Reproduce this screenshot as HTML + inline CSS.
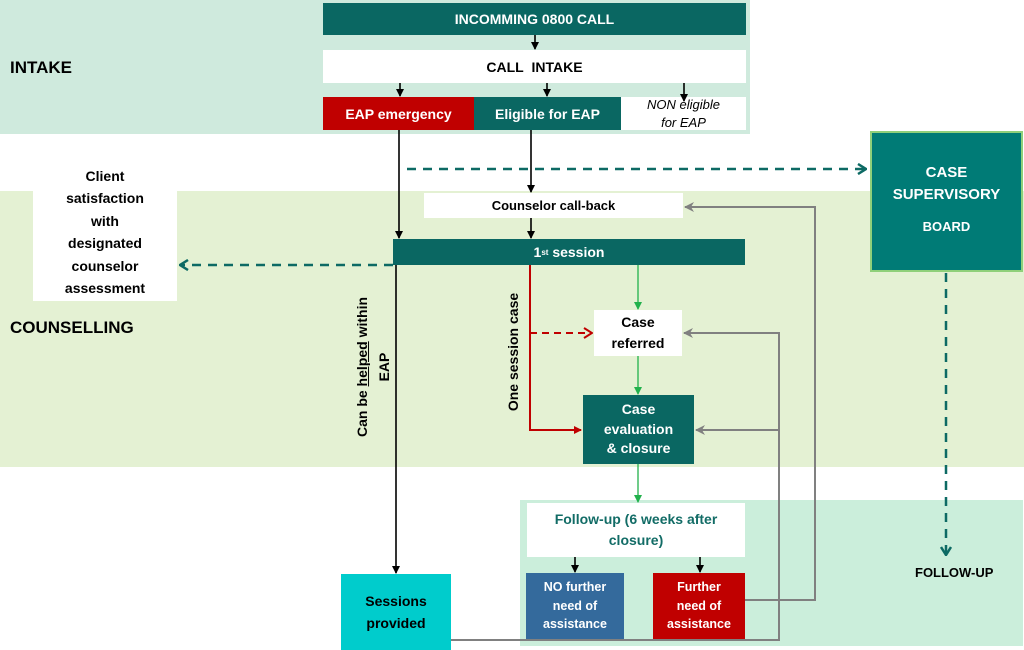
<!DOCTYPE html>
<html><head><meta charset="utf-8"><style>
body{margin:0;width:1024px;height:650px;position:relative;overflow:hidden;background:#fff;font-family:"Liberation Sans",Arial,sans-serif;font-weight:bold}
.a{position:absolute;box-sizing:border-box;display:flex;align-items:center;justify-content:center;text-align:center}
.t{color:#fff}
svg{position:absolute;left:0;top:0}
</style></head><body>
<div class="a" style="left:0;top:0;width:750px;height:134px;background:#cfeadd"></div>
<div class="a" style="left:0;top:191px;width:1024px;height:276px;background:#e4f1d3"></div>
<div class="a" style="left:520px;top:500px;width:503px;height:146px;background:#cbeedb"></div>

<div class="a" style="left:10px;top:58px;font-size:17px;color:#000;justify-content:flex-start">INTAKE</div>
<div class="a" style="left:10px;top:318px;font-size:17px;color:#000;justify-content:flex-start">COUNSELLING</div>
<div class="a" style="left:915px;top:565px;font-size:13px;color:#000;justify-content:flex-start">FOLLOW-UP</div>

<div class="a t" style="left:323px;top:3px;width:423px;height:32px;background:#0a6762;font-size:14px">INCOMMING 0800 CALL</div>
<div class="a" style="left:323px;top:50px;width:423px;height:33px;background:#fff;font-size:14px">CALL&nbsp; INTAKE</div>
<div class="a t" style="left:323px;top:97px;width:151px;height:33px;background:#c00000;font-size:14px">EAP emergency</div>
<div class="a t" style="left:474px;top:97px;width:147px;height:33px;background:#0a6762;font-size:14px">Eligible for EAP</div>
<div class="a" style="left:621px;top:97px;width:125px;height:33px;background:#fff;font-size:13px;font-style:italic;font-weight:normal;line-height:18px">NON eligible<br>for EAP</div>

<div class="a" style="left:33px;top:163px;width:144px;height:138px;background:#fff;font-size:14px;line-height:22.5px">Client<br>satisfaction<br>with<br>designated<br>counselor<br>assessment</div>
<div class="a t" style="left:870px;top:131px;width:153px;height:141px;background:#007b76;border:2px solid #8fd07a;font-size:15px;flex-direction:column;line-height:22px;padding-bottom:8px">CASE<br>SUPERVISORY<div style="font-size:13px;margin-top:14px;line-height:14px">BOARD</div></div>

<div class="a" style="left:424px;top:193px;width:259px;height:25px;background:#fff;font-size:13px">Counselor call-back</div>
<div class="a t" style="left:393px;top:239px;width:352px;height:26px;background:#0a6762;font-size:14px">1<sup style="font-size:8px">st</sup>&nbsp;session</div>
<div class="a" style="left:594px;top:310px;width:88px;height:46px;background:#fff;font-size:14px;line-height:21px">Case<br>referred</div>
<div class="a t" style="left:583px;top:395px;width:111px;height:69px;background:#0a6762;font-size:14px;line-height:19.5px">Case<br>evaluation<br>&amp; closure</div>
<div class="a" style="left:527px;top:503px;width:218px;height:54px;background:#fff;font-size:14px;color:#126c66;line-height:21px">Follow-up (6 weeks after<br>closure)</div>
<div class="a t" style="left:526px;top:573px;width:98px;height:66px;background:#346a9c;font-size:12.5px;line-height:18.5px">NO further<br>need of<br>assistance</div>
<div class="a t" style="left:653px;top:573px;width:92px;height:66px;background:#c00000;font-size:12.5px;line-height:18.5px">Further<br>need of<br>assistance</div>
<div class="a" style="left:341px;top:574px;width:110px;height:76px;background:#00cccc;font-size:14px;line-height:22px">Sessions<br>provided</div>

<div class="a" style="left:373px;top:367px;width:0;height:0"><div style="transform:rotate(-90deg);white-space:nowrap;font-size:14px;line-height:22px;text-align:center">Can be <u>helped</u> within<br>EAP</div></div>
<div class="a" style="left:513px;top:352px;width:0;height:0"><div style="transform:rotate(-90deg);white-space:nowrap;font-size:14px">One session case</div></div>

<svg width="1024" height="650" viewBox="0 0 1024 650">
<defs>
<marker id="bk" markerWidth="8" markerHeight="8" refX="7" refY="4" orient="auto" markerUnits="userSpaceOnUse"><path d="M0,0 L8,4 L0,8z" fill="#000"/></marker>
<marker id="gr" markerWidth="8" markerHeight="8" refX="7" refY="4" orient="auto" markerUnits="userSpaceOnUse"><path d="M0,0 L8,4 L0,8z" fill="#22b14c"/></marker>
<marker id="rd" markerWidth="8" markerHeight="8" refX="7" refY="4" orient="auto" markerUnits="userSpaceOnUse"><path d="M0,0 L8,4 L0,8z" fill="#c00000"/></marker>
<marker id="rdo" markerWidth="10" markerHeight="12" refX="9" refY="6" orient="auto" markerUnits="userSpaceOnUse"><path d="M1,1 L9,6 L1,11" fill="none" stroke="#c00000" stroke-width="2"/></marker>
<marker id="gy" markerWidth="10" markerHeight="10" refX="9" refY="5" orient="auto" markerUnits="userSpaceOnUse"><path d="M0,0 L10,5 L0,10 L3,5z" fill="#808080"/></marker>
<marker id="tl" markerWidth="10" markerHeight="12" refX="9" refY="6" orient="auto" markerUnits="userSpaceOnUse"><path d="M1,1 L9,6 L1,11" fill="none" stroke="#0d6a64" stroke-width="2.5"/></marker>
</defs>
<g stroke="#000" stroke-width="1.6" fill="none">
<line x1="535" y1="35" x2="535" y2="49" marker-end="url(#bk)"/>
<line x1="400" y1="83" x2="400" y2="96" marker-end="url(#bk)"/>
<line x1="547" y1="83" x2="547" y2="96" marker-end="url(#bk)"/>
<line x1="684" y1="83" x2="684" y2="101" marker-end="url(#bk)"/>
<line x1="399" y1="130" x2="399" y2="238" marker-end="url(#bk)"/>
<line x1="531" y1="130" x2="531" y2="192" marker-end="url(#bk)"/>
<line x1="531" y1="218" x2="531" y2="238" marker-end="url(#bk)"/>
<line x1="396" y1="265" x2="396" y2="573" marker-end="url(#bk)"/>
<line x1="575" y1="557" x2="575" y2="572" marker-end="url(#bk)"/>
<line x1="700" y1="557" x2="700" y2="572" marker-end="url(#bk)"/>
</g>
<g stroke="#0d6a64" stroke-width="2.5" fill="none" stroke-dasharray="9,7">
<line x1="407" y1="169" x2="866" y2="169" marker-end="url(#tl)"/>
<line x1="393" y1="265" x2="180" y2="265" marker-end="url(#tl)"/>
<line x1="946" y1="273" x2="946" y2="555" marker-end="url(#tl)"/>
</g>
<g stroke="#c00000" stroke-width="2" fill="none">
<polyline points="530,265 530,430 581,430" marker-end="url(#rd)"/>
<line x1="530" y1="333" x2="592" y2="333" stroke-dasharray="7,5" marker-end="url(#rdo)"/>
</g>
<g stroke="#22b14c" stroke-width="1.3" fill="none">
<line x1="638" y1="265" x2="638" y2="309" marker-end="url(#gr)"/>
<line x1="638" y1="356" x2="638" y2="394" marker-end="url(#gr)"/>
<line x1="638" y1="464" x2="638" y2="502" marker-end="url(#gr)"/>
</g>
<g stroke="#808080" stroke-width="2" fill="none">
<polyline points="745,600 815,600 815,207 685,207" marker-end="url(#gy)"/>
<polyline points="451,640 779,640 779,333 684,333" marker-end="url(#gy)"/>
<line x1="779" y1="430" x2="696" y2="430" marker-end="url(#gy)"/>
</g>
</svg>
</body></html>
